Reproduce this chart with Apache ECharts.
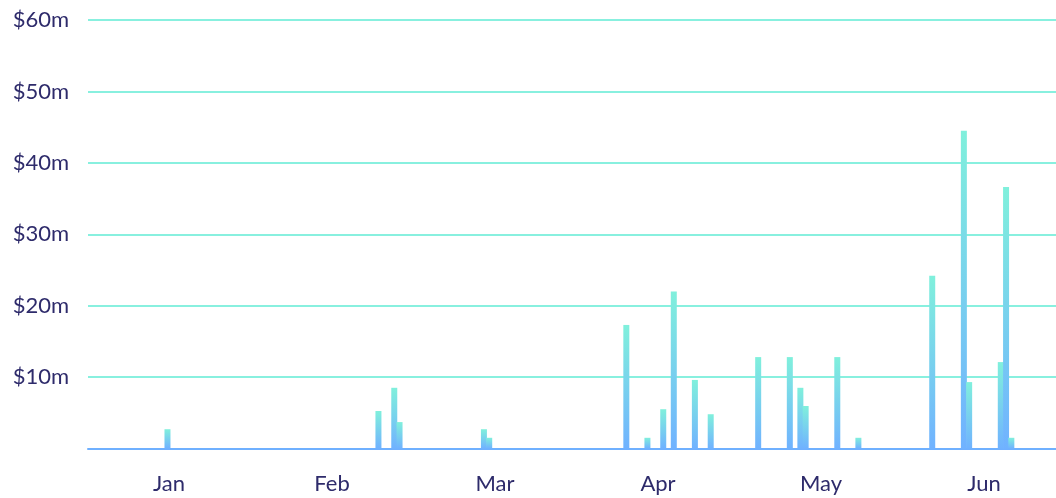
<!DOCTYPE html>
<html>
<head>
<meta charset="utf-8">
<title>Monthly deals</title>
<script src="https://cdn.jsdelivr.net/npm/echarts@6/dist/echarts.min.js"></script>
<style>
	html, body { margin: 0; padding: 0; background: #ffffff; }
	#dealChart { width: 1056px; height: 498px; }
</style>
</head>
<body>
<div id="dealChart"></div>
<script>
// bar dates and values ($m)
var barDates = ['2017-01-15', '2017-02-24', '2017-02-27', '2017-02-28', '2017-03-16', '2017-03-17',
	'2017-04-12', '2017-04-16', '2017-04-19', '2017-04-21', '2017-04-25', '2017-04-28',
	'2017-05-07', '2017-05-13', '2017-05-15', '2017-05-16', '2017-05-22', '2017-05-26',
	'2017-06-09', '2017-06-15', '2017-06-16', '2017-06-22', '2017-06-23', '2017-06-24'];
var barValues = [2.7, 5.25, 8.5, 3.7, 2.7, 1.5,
	17.3, 1.5, 5.5, 22.0, 9.6, 4.8,
	12.8, 12.8, 8.5, 5.95, 12.8, 1.5,
	24.2, 44.5, 9.3, 12.1, 36.6, 1.5];
var monthLabels = ['Jan', 'Feb', 'Mar', 'Apr', 'May', 'Jun'];
var yMax = 60;
var yStep = 10;

var DAY = 86400000;

function toTime(s) {
	var p = s.split('-');
	return new Date(+p[0], +p[1] - 1, +p[2]).getTime();
}

var seriesData = [];
for(var i in barDates) {
	seriesData.push([toTime(barDates[i]), barValues[i]]);
}

var timeMin = new Date(2016, 11, 31, 12).getTime();
var timeMax = timeMin + 182.4 * DAY;

var labelColor = '#2e2b6b';
var labelFont = 'Lato';

var dealChart = echarts.init(document.getElementById('dealChart'));
var optionDealChart = {
	animation: false,
	grid: {
		left: 88,
		right: 0,
		top: 20,
		bottom: 49.5
	},
	xAxis: [{
		//bars sit on this one
		type: 'time',
		min: timeMin,
		max: timeMax,
		axisLine: {
			lineStyle: {
				color: '#6fb0ff',
				width: 2
			}
		},
		axisTick: { show: false },
		axisLabel: { show: false },
		splitLine: { show: false }
	}, {
		//month names only
		type: 'value',
		position: 'bottom',
		min: -0.497,
		max: 5.442,
		splitNumber: 6,
		axisLine: { show: false },
		axisTick: { show: false },
		splitLine: { show: false },
		axisLabel: {
			margin: 24,
			color: labelColor,
			fontFamily: labelFont,
			fontSize: 22,
			showMinLabel: false,
			showMaxLabel: false,
			formatter: function(v) {
				if(Math.abs(v - Math.round(v)) > 0.001) return '';
				return monthLabels[Math.round(v)] || '';
			}
		}
	}],
	yAxis: {
		type: 'value',
		min: 0,
		max: yMax,
		interval: yStep,
		axisLine: { show: false },
		axisTick: { show: false },
		axisLabel: {
			margin: 19,
			color: labelColor,
			fontFamily: labelFont,
			fontSize: 22,
			formatter: function(v) {
				if(v == 0) return '';
				return '$' + v + 'm';
			}
		},
		splitLine: {
			lineStyle: {
				color: '#88f0df',
				width: 2
			}
		}
	},
	series: [{
		type: 'bar',
		xAxisIndex: 0,
		barWidth: 6,
		data: seriesData,
		itemStyle: {
			color: new echarts.graphic.LinearGradient(0, 0, 0, 1, [
				{ offset: 0, color: '#80f0dc' },
				{ offset: 1, color: '#70b2ff' }
			])
		}
	}]
};

dealChart.setOption(optionDealChart);
</script>
</body>
</html>
